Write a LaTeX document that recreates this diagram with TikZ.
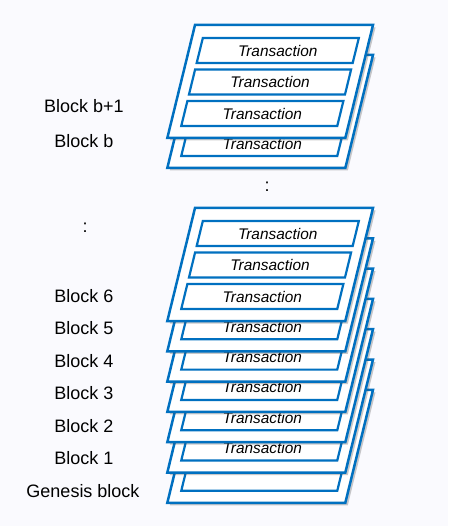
\documentclass[tikz,border=0pt]{standalone}
\usepackage{fontspec}
\setmainfont{Liberation Sans}
\usetikzlibrary{shadows}
\definecolor{chainblue}{RGB}{0,112,192}
\definecolor{paper}{RGB}{250,250,254}

\begin{document}
\begin{tikzpicture}[x=1pt,y=-1pt]
  \tikzset{block face/.style={draw=chainblue,line width=2.5pt,fill=white,
      drop shadow={shadow xshift=2.5pt,shadow yshift=-2.5pt,opacity=0.3,fill=black!70}},
    tx box/.style={draw=chainblue,line width=2.2pt,fill=white},
    tx text/.style={font=\fontsize{15.4}{17}\selectfont\itshape},
    block label/.style={font=\fontsize{18}{20}\selectfont}}

  \fill[paper] (0,0) rectangle (448,526);
  \useasboundingbox (0,0) rectangle (448,526);

  % upper stack: block b behind, only its last transaction shows
  \begin{scope}[shift={(195,55)},xslant=0.245]
    \path[block face] (0,0) rectangle (178,113);
    \foreach \v in {13,44.5,76}
      \draw[tx box] (11,\v) rectangle ++(156,25);
    \node[tx text] (tx-b-3) at (89,88.5) {Transaction};
  \end{scope}
  \begin{scope}[shift={(195,25)},xslant=0.245]
    \path[block face] (0,0) rectangle (178,113);
    \foreach \v [count=\k] in {13,44.5,76} {
      \draw[tx box] (11,\v) rectangle ++(156,25);
      \node[tx text] (tx-b1-\k) at (89,\v+12.5) {Transaction};
    }
  \end{scope}

  % lower stack, back to front: genesis block has empty boxes
  \begin{scope}[shift={(195,389.8)},xslant=0.245]
    \path[block face] (0,0) rectangle (178,113);
    \foreach \v in {13,44.5,76}
      \draw[tx box] (11,\v) rectangle ++(156,25);
  \end{scope}
  \foreach \n in {1,...,5} {
    \begin{scope}[shift={(195,208+30.3*(6-\n))},xslant=0.245]
      \path[block face] (0,0) rectangle (178,113);
      \foreach \v in {13,44.5,76}
        \draw[tx box] (11,\v) rectangle ++(156,25);
      \node[tx text] (tx-\n-3) at (89,88.5) {Transaction};
    \end{scope}
  }
  \begin{scope}[shift={(195,208)},xslant=0.245]
    \path[block face] (0,0) rectangle (178,113);
    \foreach \v [count=\k] in {13,44.5,76} {
      \draw[tx box] (11,\v) rectangle ++(156,25);
      \node[tx text] (tx-6-\k) at (89,\v+12.5) {Transaction};
    }
  \end{scope}

  % labels
  \node[block label] (lbl-b1) at (84,106) {Block b+1};
  \node[block label] (lbl-b) at (84,141.5) {Block b};
  \node[block label] (dots-top) at (267,187) {:};
  \node[block label] (dots-left) at (85,228) {:};
  \foreach \k/\y in {6/296,5/328.5,4/361,3/393.5,2/426,1/458.5}
    \node[block label] (lbl-\k) at (84,\y) {Block \k};
  \node[block label] (lbl-genesis) at (83,491) {Genesis block};

\end{tikzpicture}
\end{document}
